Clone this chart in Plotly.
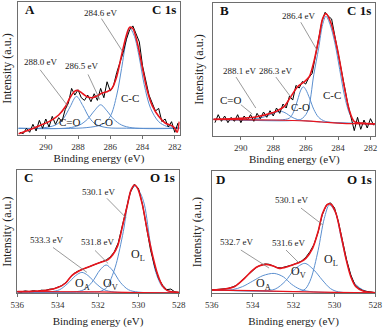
import plotly.graph_objects as go

SERIF = "Liberation Serif, Times New Roman, serif"
RED = "#e8141c"
BLUE = "#5b8fcf"
GRAY = "#808080"
FRAME = "#6e6e6e"

# ---- measured spectra (intensity in a.u., 0-100 of the panel height) ----
c1s_energy = [291.6, 291.4, 291.2, 291.0, 290.8, 290.6, 290.4, 290.2, 290.0, 289.8,
              289.6, 289.4, 289.2, 289.0, 288.8, 288.6, 288.4, 288.2, 288.0, 287.8,
              287.6, 287.4, 287.2, 287.0, 286.8, 286.6, 286.4, 286.2, 286.0, 285.8,
              285.6, 285.4, 285.2, 285.0, 284.8, 284.6, 284.4, 284.2, 284.0, 283.8,
              283.6, 283.4, 283.2, 283.0, 282.8, 282.6, 282.4, 282.2, 282.0, 281.8]
o1s_energy = [536.0, 535.8, 535.6, 535.4, 535.2, 535.0, 534.8, 534.6, 534.4, 534.2,
              534.0, 533.8, 533.6, 533.4, 533.2, 533.0, 532.8, 532.6, 532.4, 532.2,
              532.0, 531.8, 531.6, 531.4, 531.2, 531.0, 530.8, 530.6, 530.4, 530.2,
              530.0, 529.8, 529.6, 529.4, 529.2, 529.0, 528.8, 528.6, 528.4, 528.2, 528.0]

a_raw = [2, 1, 5, 2, 8, 3, 11, 5, 12, 6,
         14, 8, 13, 10, 19, 24, 35, 30, 34, 28,
         26, 30, 25, 31, 26, 35, 28, 40, 33, 37,
         47, 55, 62, 72, 79, 82, 76, 70, 52, 42,
         30, 24, 18, 20, 10, 12, 6, 10, 2, 9]
b_raw = [10, 16, 11, 15, 10, 14, 11, 16, 10, 15,
         12, 16, 11, 17, 13, 18, 14, 19, 15, 21,
         17, 24, 21, 30, 27, 38, 36, 41, 39, 44,
         47, 60, 70, 86, 93, 90, 88, 75, 64, 50,
         37, 24, 14, 4, 14, 5, 12, 6, 13, 8]
c_raw = [1.5, 1.2, 2.0, 1.4, 2.2, 1.6, 2.6, 2.4, 3.4, 3.6,
         5.0, 6.2, 8.8, 12.5, 16.0, 18.0, 19.2, 20.6, 21.8, 23.4,
         24.2, 25.8, 27.0, 29.5, 33.5, 41, 54, 68, 82, 88.5,
         85, 72, 53, 35, 22, 12, 6.5, 3.0, 3.5, 1.2, 0.8]
d_raw = [2.8, 3.2, 3.0, 3.8, 4.0, 5.2, 6.5, 9.5, 12.5, 15.5,
         19.0, 21.5, 23.0, 24.0, 23.8, 22.5, 21.0, 20.8, 21.5, 22.5,
         23.5, 25.0, 26.5, 29.5, 34.0, 40, 50, 64, 72, 74,
         70, 58, 42, 27, 15, 7, 4, 2.2, 1.5, 1.0, 0.6]

# ---- fitted envelopes ----
a_fit_e = [291.7, 291.0, 290.4, 289.8, 289.2, 288.8, 288.5, 288.2, 288.0, 287.7, 287.4,
           287.1, 286.8, 286.5, 286.2, 285.9, 285.6, 285.3, 285.0, 284.8, 284.6, 284.3,
           284.0, 283.7, 283.4, 283.0, 282.6, 282.2, 282.0, 281.85, 281.72]
a_fit = [1, 4, 7, 10, 15, 21, 28, 33, 33.5, 31, 28.5,
         28, 29.5, 31.5, 32.5, 35, 44, 60, 75, 81, 80, 68,
         50, 33, 22, 14, 9, 7, 5, 2, 10]
b_fit_e = [291.7, 290.0, 289.0, 288.15, 287.74, 287.33, 286.92, 286.5, 286.09, 285.78, 285.47,
           285.16, 284.96, 284.75, 284.44, 284.03, 283.62, 283.31, 283.0, 282.38, 281.7]
b_fit = [12.5, 13.25, 14.5, 17, 19, 22, 29.5, 37, 40.75, 44.5, 57,
         75, 88, 92, 85, 64.5, 37, 19.5, 10.75, 9.5, 9]
c_fit_e = [536, 535.27, 534.45, 533.96, 533.6, 533.3, 532.9, 532.5, 532.0, 531.5, 531.27, 531.02,
           530.78, 530.53, 530.37, 530.2, 530.04, 529.8, 529.55, 529.3, 529.06, 528.82, 528.57, 528.0]
c_fit = [1.4, 1.6, 2.7, 4.9, 8.4, 14.4, 18.5, 21.2, 24.5, 27.4, 31.25, 38.9,
         55.2, 72.8, 83.7, 87.8, 85, 71.5, 49.7, 30.7, 15.8, 6.25, 2.2, 0.8]
d_fit_e = [536, 535.4, 534.9, 534.4, 534.0, 533.7, 533.35, 533.0, 532.7, 532.3, 531.97, 531.7, 531.4,
           531.07, 530.8, 530.58, 530.33, 530.17, 529.93, 529.68, 529.44, 529.2, 528.95, 528.6, 528]
d_fit = [2.7, 3.5, 5.4, 12.3, 19, 22.3, 23.7, 22.3, 20.4, 21.8, 23.7, 25.3, 28.6,
         36.8, 50.4, 65.4, 72.8, 72.8, 65.4, 47.7, 28.6, 13.6, 5.4, 1.9, 0.5]

# backgrounds
b_bg_e = [291.7, 288, 286, 285, 284, 283, 281.7]
b_bg = [12.5, 12, 11.3, 10.5, 9.7, 9.2, 9]
c_bg_e = [536, 532, 530, 528]
c_bg = [1.5, 1.2, 0.6, 0.4]
d_bg_e = [536, 534, 532, 530, 528]
d_bg = [2.7, 2.2, 1.5, 0.8, 0.5]

# ---- fitted components ----
a_c2o_e = [291.7, 290.2, 289.4, 288.9, 288.5, 288.1, 287.7, 287.3, 286.9, 286.2, 285.0, 281.7]
a_c2o = [5, 5.3, 7.5, 12.5, 21, 29, 22, 13, 8, 5.5, 5.1, 5]
a_co_e = [291.7, 288.6, 287.9, 287.4, 287.0, 286.6, 286.2, 285.8, 285.3, 284.6, 281.7]
a_co = [5, 5.3, 7.5, 12, 18, 22.7, 18, 12, 7.5, 5.3, 5]
a_cc_e = [291.7, 287.5, 286.5, 286.0, 285.6, 285.3, 285.0, 284.8, 284.5, 284.2, 283.9,
          283.5, 283.0, 282.5, 281.7]
a_cc = [5, 5.5, 8, 14, 30, 50, 72, 80.6, 74, 58, 38, 20, 10, 6.5, 5.5]

b_c2o_e = [291.7, 289.5, 288.8, 288.3, 287.8, 287.5, 287.2, 286.9, 286.5, 286.0, 281.7]
b_c2o = [12.5, 12.5, 13.5, 15.5, 18, 18.5, 17, 14.5, 12.3, 11.3, 9]
b_co_e = [291.7, 287.6, 287.0, 286.75, 286.5, 286.3, 286.15, 286.0, 285.75, 285.5, 285.2,
          284.8, 284.0, 281.7]
b_co = [12.5, 12, 13.5, 18, 27, 34.5, 37, 35, 28, 20, 14, 11, 9.8, 9]
b_cc_e = [291.7, 287.0, 286.3, 285.9, 285.5, 285.2, 284.95, 284.75, 284.5, 284.2, 283.9,
          283.6, 283.3, 283.0, 282.5, 281.7]
b_cc = [12.5, 11.5, 12.5, 18, 46, 66, 84, 90, 84, 70, 50, 30, 17, 11, 9.5, 9]

c_oa_e = [536, 534.4, 533.9, 533.5, 533.1, 532.8, 532.5, 532.1, 531.7, 531.2, 528]
c_oa = [1, 1.2, 3, 8, 14.5, 17, 14.5, 8, 3, 1.1, 0.6]
c_ov_e = [536, 533.2, 532.7, 532.3, 531.9, 531.6, 531.3, 530.9, 530.5, 530.0, 528]
c_ov = [1, 1.1, 3, 9, 19, 23, 19, 9, 3, 1, 0.6]
c_ol_e = [536, 532.3, 531.9, 531.55, 531.35, 531.1, 530.75, 530.4, 530.15, 529.9, 529.7,
          529.4, 529.14, 528.8, 528.4, 528]
c_ol = [1, 1, 1.5, 5, 12, 24, 50, 82, 87, 81, 71.5, 39, 17, 5, 1.4, 0.6]

d_oa_e = [536, 535.0, 534.5, 534.0, 533.5, 532.95, 532.5, 532.1, 531.7, 531.2, 528]
d_oa = [2.7, 3, 5.5, 10, 14.5, 16.3, 13.5, 7.5, 3.5, 1.5, 0.5]
d_ov_e = [536, 533.5, 532.9, 532.4, 531.95, 531.45, 531.0, 530.6, 530.2, 529.8, 528]
d_ov = [2.7, 2.2, 3.5, 10, 19.5, 24.5, 19, 11, 4, 1.2, 0.5]
d_ol_e = [536, 532, 531.6, 531.4, 531.15, 530.8, 530.5, 530.25, 529.95, 529.68, 529.35,
          529.0, 528.5, 528]
d_ol = [2.7, 1.5, 2, 4, 12, 35, 61, 72.2, 66, 46, 23, 8, 2, 0.5]

# panel layout: domains
panels = [
    dict(x=[0.048, 0.469], y=[0.591, 0.994], rng=[291.7, 281.7], ticks=[290, 288, 286, 284, 282], st=3),
    dict(x=[0.557, 0.980], y=[0.588, 0.991], rng=[291.7, 281.7], ticks=[290, 288, 286, 284, 282], st=3),
    dict(x=[0.045, 0.467], y=[0.111, 0.485], rng=[536, 528], ticks=[536, 534, 532, 530, 528], st=8),
    dict(x=[0.553, 0.980], y=[0.111, 0.482], rng=[536, 528], ticks=[536, 534, 532, 530, 528], st=8),
]

spectra = [
    (c1s_energy, a_raw, a_fit_e, a_fit, None,
     [(a_c2o_e, a_c2o), (a_co_e, a_co), (a_cc_e, a_cc)]),
    (c1s_energy, b_raw, b_fit_e, b_fit, (b_bg_e, b_bg),
     [(b_c2o_e, b_c2o), (b_co_e, b_co), (b_cc_e, b_cc)]),
    (o1s_energy, c_raw, c_fit_e, c_fit, (c_bg_e, c_bg),
     [(c_oa_e, c_oa), (c_ov_e, c_ov), (c_ol_e, c_ol)]),
    (o1s_energy, d_raw, d_fit_e, d_fit, (d_bg_e, d_bg),
     [(d_oa_e, d_oa), (d_ov_e, d_ov), (d_ol_e, d_ol)]),
]

fig = go.Figure()

for i, (e, raw, fe, fv, bg, comps) in enumerate(spectra):
    n = "" if i == 0 else str(i + 1)
    xa, ya = "x" + n, "y" + n
    for ce, cv in comps:
        fig.add_trace(go.Scatter(x=ce, y=cv, xaxis=xa, yaxis=ya, mode="lines",
                                 line=dict(color=BLUE, width=1, shape="spline", smoothing=0.9),
                                 hoverinfo="skip"))
    fig.add_trace(go.Scatter(x=e, y=raw, xaxis=xa, yaxis=ya, mode="lines",
                             line=dict(color="black", width=1)))
    if bg:
        fig.add_trace(go.Scatter(x=bg[0], y=bg[1], xaxis=xa, yaxis=ya, mode="lines",
                                 line=dict(color=RED, width=1.2, shape="spline")))
    fig.add_trace(go.Scatter(x=fe, y=fv, xaxis=xa, yaxis=ya, mode="lines",
                             line=dict(color=RED, width=1.6, shape="spline", smoothing=0.8)))

layout = {}
for i, p in enumerate(panels):
    n = "" if i == 0 else str(i + 1)
    layout["xaxis" + n] = dict(
        domain=p["x"], range=p["rng"], anchor="y" + n, automargin=False,
        showline=True, mirror=True, linecolor=FRAME, linewidth=1,
        ticks="outside", ticklen=3, tickcolor=FRAME, tickvals=p["ticks"],
        tickfont=dict(family=SERIF, size=9, color="#333"), ticklabeloverflow="allow",
        showgrid=False, zeroline=False,
        title=dict(text="Binding energy (eV)", standoff=p["st"],
                   font=dict(family=SERIF, size=11, color="#222")),
    )
    layout["yaxis" + n] = dict(
        domain=p["y"], range=[0, 100], anchor="x" + n, automargin=False,
        showline=True, mirror=True, linecolor=FRAME, linewidth=1,
        showticklabels=False, ticks="", showgrid=False, zeroline=False,
        title=dict(text="Intensity (a.u.)", standoff=6,
                   font=dict(family=SERIF, size=12, color="#222")),
    )

ann = []
shapes = []


def label(n, x, y, text, size=9):
    ref = "" if n == 1 else str(n)
    ann.append(dict(x=x, y=y, xref="x" + ref, yref="y" + ref, text=text, showarrow=False,
                    font=dict(family=SERIF, size=size, color="#222"),
                    xanchor="center", yanchor="middle"))


def leader(n, x0, y0, x1, y1):
    ref = "" if n == 1 else str(n)
    shapes.append(dict(type="line", xref="x" + ref, yref="y" + ref, x0=x0, y0=y0, x1=x1, y1=y1,
                       line=dict(color=GRAY, width=0.8)))


def corner(n, left, right, yd, lx, rx):
    ref = "" if n == 1 else str(n)
    ann.append(dict(x=lx, y=yd, xref="x%s domain" % ref, yref="y%s domain" % ref,
                    text="<b>%s</b>" % left, showarrow=False, xanchor="left", yanchor="middle",
                    font=dict(family=SERIF, size=13, color="#111")))
    ann.append(dict(x=rx, y=yd, xref="x%s domain" % ref, yref="y%s domain" % ref,
                    text="<b>%s</b>" % right, showarrow=False, xanchor="right", yanchor="middle",
                    font=dict(family=SERIF, size=13, color="#111")))


# panel A
corner(1, "A", "C 1s", 0.94, 0.03, 0.99)
label(1, 286.63, 91.7, "284.6 eV")
leader(1, 286.55, 87.5, 285.25, 63)
label(1, 290.35, 54.5, "288.0 eV")
leader(1, 290.35, 49, 288.62, 21.5)
label(1, 287.81, 51.5, "286.5 eV")
leader(1, 287.38, 45.5, 286.65, 26.5)
label(1, 288.49, 9.5, "C=O", 11)
label(1, 286.45, 9.5, "C-O", 11)
label(1, 284.77, 28, "C-C", 11)

# panel B
corner(2, "B", "C 1s", 0.94, 0.026, 0.983)
label(2, 286.42, 90, "286.4 eV")
leader(2, 286.3, 85.5, 285.3, 64.5)
label(2, 290.07, 48.8, "288.1 eV")
leader(2, 290.3, 44.3, 289.08, 21)
label(2, 287.84, 48.8, "286.3 eV")
leader(2, 287.84, 44.3, 286.92, 29.3)
label(2, 290.63, 27, "C=O", 11)
leader(2, 290.0, 23.5, 289.3, 16.5)
label(2, 286.35, 21.8, "C-O", 11)
label(2, 284.35, 31, "C-C", 11)

# panel C
corner(3, "C", "O 1s", 0.935, 0.027, 0.99)
label(3, 532.0, 82, "530.1 eV")
leader(3, 531.56, 77, 530.6, 61)
label(3, 534.53, 43, "533.3 eV")
leader(3, 534.23, 37.2, 532.55, 17)
label(3, 532.05, 41.3, "531.8 eV")
leader(3, 532.15, 34.8, 531.5, 24.2)
label(3, 532.75, 8, "O<sub>A</sub>", 12)
label(3, 531.4, 8, "O<sub>V</sub>", 12)
label(3, 530.0, 31, "O<sub>L</sub>", 12)

# panel D
corner(4, "D", "O 1s", 0.926, 0.014, 0.99)
label(4, 532.08, 76.3, "530.1 eV")
leader(4, 531.64, 69.7, 530.56, 55.8)
label(4, 534.77, 42, "532.7 eV")
leader(4, 534.58, 35.4, 533.2, 20.7)
label(4, 532.27, 41, "531.6 eV")
leader(4, 532.37, 35.4, 531.78, 25.6)
label(4, 533.45, 7.6, "O<sub>A</sub>", 12)
label(4, 531.74, 17.4, "O<sub>V</sub>", 12)
label(4, 530.17, 27.2, "O<sub>L</sub>", 12)

fig.update_layout(
    width=383, height=330,
    margin=dict(l=0, r=0, t=0, b=0),
    paper_bgcolor="white", plot_bgcolor="white",
    showlegend=False,
    annotations=ann, shapes=shapes,
    **layout,
)

# the page's default body margin would shift the 383x330 figure off the window
fig.write_html("out.html", config={"displayModeBar": False},
               post_script="document.body.style.margin='0';document.body.style.overflow='hidden';")
